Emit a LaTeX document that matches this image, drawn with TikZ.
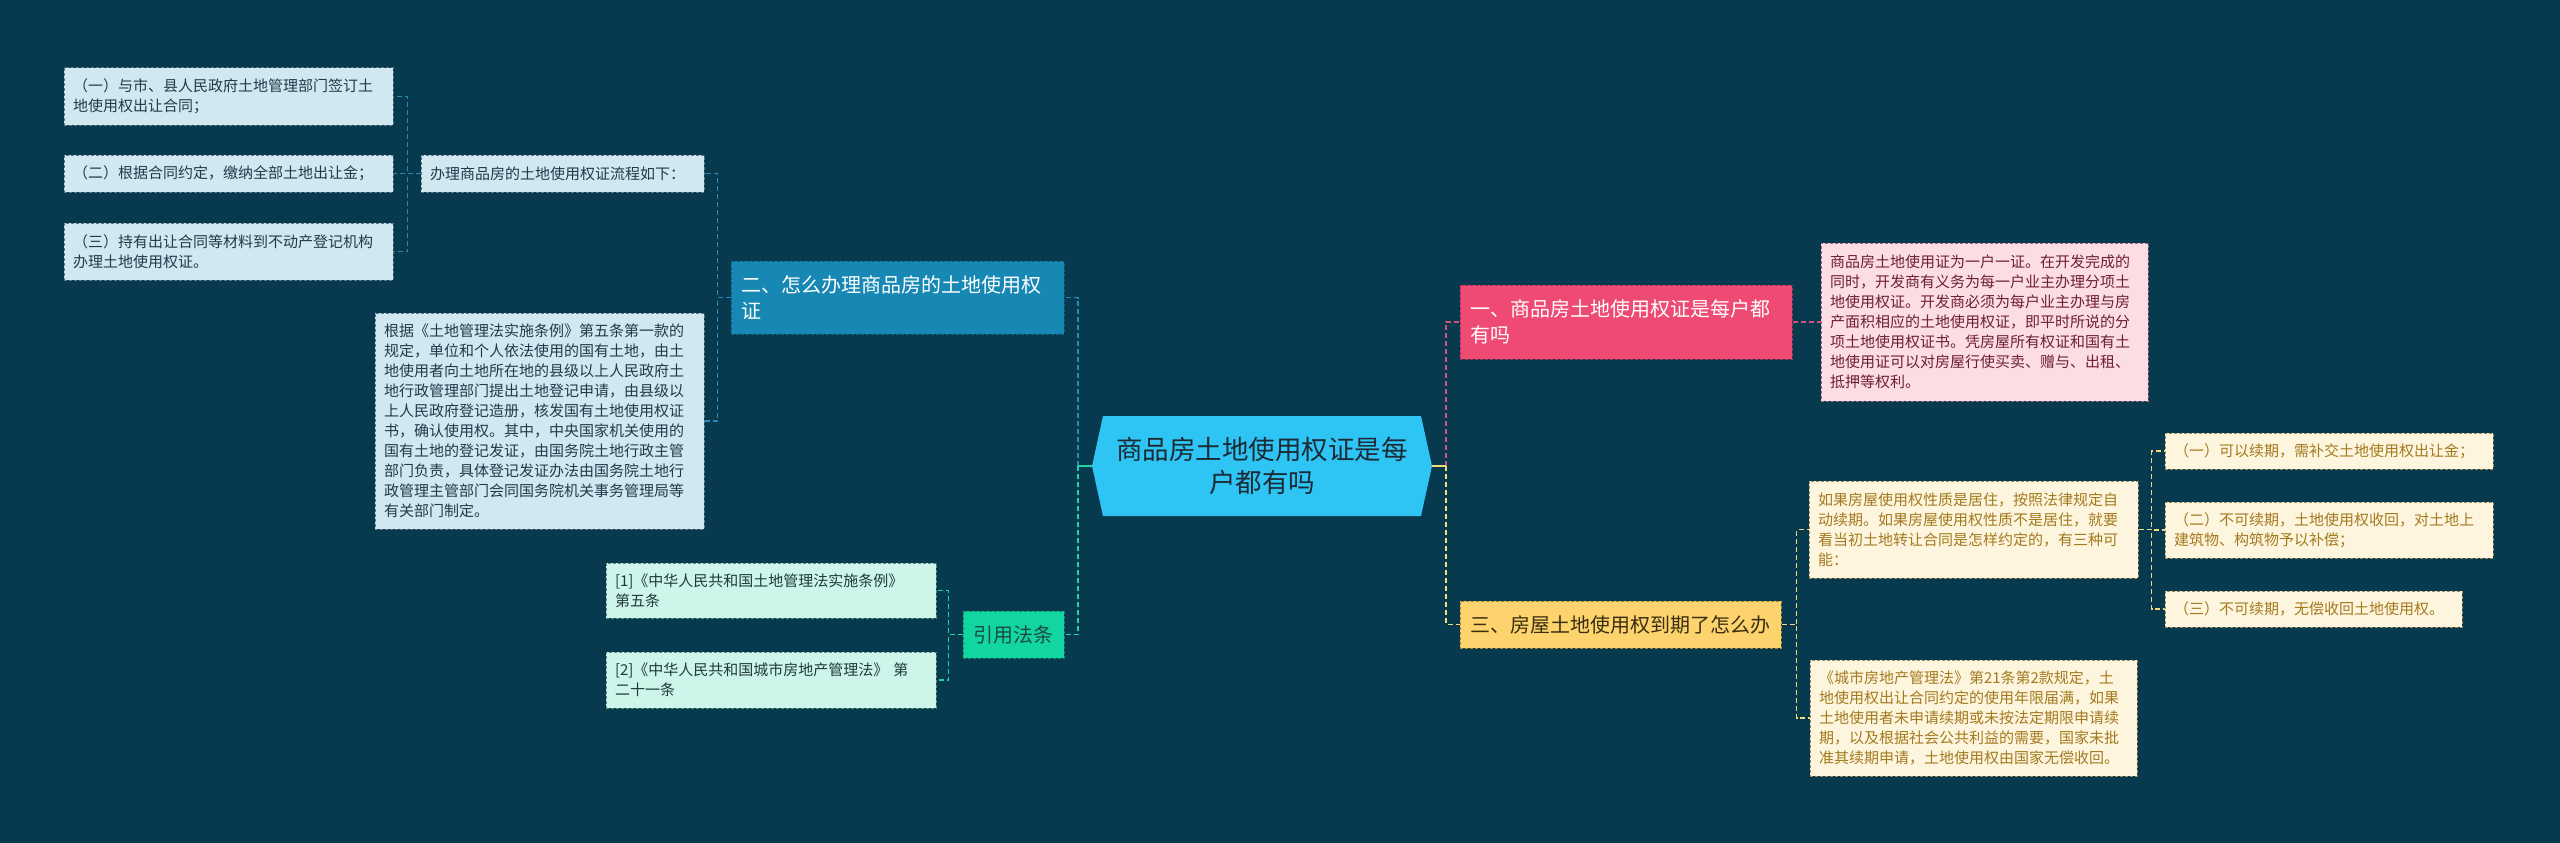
\documentclass[tikz,border=0pt]{standalone}
\usepackage{fontspec}
\newfontfamily\cjk{Noto Sans CJK SC}
\definecolor{bg}{HTML}{083A4F}
\definecolor{lbfill}{HTML}{D2E8F0}
\definecolor{lbdraw}{HTML}{5A7A88}
\definecolor{lbtext}{HTML}{1F3B4A}
\definecolor{twofill}{HTML}{1788B4}
\definecolor{twodraw}{HTML}{0F5F80}
\definecolor{citefill}{HTML}{12D6A2}
\definecolor{citedraw}{HTML}{0A8A68}
\definecolor{citetext}{HTML}{1B4A40}
\definecolor{reffill}{HTML}{CEF5EA}
\definecolor{refdraw}{HTML}{5F8C80}
\definecolor{reftext}{HTML}{1F3B3A}
\definecolor{onefill}{HTML}{EE4A73}
\definecolor{onedraw}{HTML}{A83255}
\definecolor{pkfill}{HTML}{FCDDE4}
\definecolor{pkdraw}{HTML}{9A6A78}
\definecolor{pktext}{HTML}{6E1F33}
\definecolor{threefill}{HTML}{FDD36E}
\definecolor{threedraw}{HTML}{A88830}
\definecolor{threetext}{HTML}{3A2E10}
\definecolor{ylfill}{HTML}{FEF5DE}
\definecolor{yldraw}{HTML}{9C8A5A}
\definecolor{yltext}{HTML}{A37A1E}
\definecolor{rootfill}{HTML}{2EC4F3}
\definecolor{roottext}{HTML}{1B2A35}
\definecolor{cblue}{HTML}{2A8AB5}
\definecolor{cgreen}{HTML}{1DD4A0}
\definecolor{cpink}{HTML}{D5507D}
\definecolor{cyellow}{HTML}{F2DA7A}
\tikzset{
  box/.style={rectangle, inner xsep=9pt, inner ysep=0pt, align=left, anchor=center,
    dash pattern=on 3pt off 2pt, line width=1pt},
  wh/.style n args={3}{minimum width=#1pt, minimum height=#2pt, text width=#3pt},
  smalltxt/.style={font=\cjk\fontsize{15}{20}\selectfont},
  titletxt/.style={font=\cjk\fontsize{20}{26.5}\selectfont, inner xsep=10pt},
  leafB/.style={box, smalltxt, fill=lbfill, draw=lbdraw, text=lbtext},
  refbox/.style={box, smalltxt, fill=reffill, draw=refdraw, text=reftext},
  pinkbox/.style={box, smalltxt, fill=pkfill, draw=pkdraw, text=pktext},
  yellowbox/.style={box, smalltxt, fill=ylfill, draw=yldraw, text=yltext},
  twobox/.style={box, titletxt, fill=twofill, draw=twodraw, text=white},
  citebox/.style={box, titletxt, fill=citefill, draw=citedraw, text=citetext},
  onebox/.style={box, titletxt, fill=onefill, draw=onedraw, text=white},
  threebox/.style={box, titletxt, fill=threefill, draw=threedraw, text=threetext},
  rootbox/.style={rectangle, inner sep=0pt, align=center, text=roottext,
    font=\cjk\fontsize{26.5}{33}\selectfont},
  conn/.style={line width=1.6pt, dash pattern=on 5pt off 3pt},
  stub/.style={line width=2.2pt},
}
\begin{document}
\begin{tikzpicture}[x=1pt,y=-1pt]
\fill[bg] (0,0) rectangle (2560,843);
\useasboundingbox (0,0) rectangle (2560,843);

% central node
\fill[rootfill] (1092,466) -- (1103,416) -- (1421,416) -- (1432,466) -- (1421,516) -- (1103,516) -- cycle;
\node[rootbox, wh={340}{100}{300}] (root) at (1262,466) {商品房土地使用权证是每\\户都有吗};

% left branch: 二
\node[twobox, wh={333}{73}{313}] (two) at (897.5,297.5) {二、怎么办理商品房的土地使用权\\证};
\node[leafB, wh={283}{37}{265}] (proc) at (562.5,173.5) {办理商品房的土地使用权证流程如下：};
\node[leafB, wh={329}{216}{311}] (big) at (539.5,421) {根据《土地管理法实施条例》第五条第一款的\\规定，单位和个人依法使用的国有土地，由土\\地使用者向土地所在地的县级以上人民政府土\\地行政管理部门提出土地登记申请，由县级以\\上人民政府登记造册，核发国有土地使用权证\\书，确认使用权。其中，中央国家机关使用的\\国有土地的登记发证，由国务院土地行政主管\\部门负责，具体登记发证办法由国务院土地行\\政管理主管部门会同国务院机关事务管理局等\\有关部门制定。};
\node[leafB, wh={329}{57}{311}] (l1) at (228.5,96.5) {（一）与市、县人民政府土地管理部门签订土\\地使用权出让合同；};
\node[leafB, wh={329}{37}{311}] (l2) at (228.5,173.5) {（二）根据合同约定，缴纳全部土地出让金；};
\node[leafB, wh={329}{57}{311}] (l3) at (228.5,251.5) {（三）持有出让合同等材料到不动产登记机构\\办理土地使用权证。};

% left branch: 引用法条
\node[citebox, wh={101}{47}{81}, align=center] (cite) at (1013.5,634.5) {引用法条};
\node[refbox, wh={330}{55}{312}] (ref1) at (771,590.5) {[1]《中华人民共和国土地管理法实施条例》\\第五条};
\node[refbox, wh={330}{56}{312}] (ref2) at (771,680) {[2]《中华人民共和国城市房地产管理法》~第\\二十一条};

% right branch: 一
\node[onebox, wh={332}{74}{312}] (one) at (1626,322) {一、商品房土地使用权证是每户都\\有吗};
\node[pinkbox, wh={327}{158}{309}] (pk) at (1984.5,322) {商品房土地使用证为一户一证。在开发完成的\\同时，开发商有义务为每一户业主办理分项土\\地使用权证。开发商必须为每户业主办理与房\\产面积相应的土地使用权证，即平时所说的分\\项土地使用权证书。凭房屋所有权证和国有土\\地使用证可以对房屋行使买卖、赠与、出租、\\抵押等权利。};

% right branch: 三
\node[threebox, wh={321}{47}{301}] (three) at (1620.5,624.5) {三、房屋土地使用权到期了怎么办};
\node[yellowbox, wh={329}{97}{311}] (ifb) at (1973.5,529.5) {如果房屋使用权性质是居住，按照法律规定自\\动续期。如果房屋使用权性质不是居住，就要\\看当初土地转让合同是怎样约定的，有三种可\\能：};
\node[yellowbox, wh={328}{36}{310}] (y1) at (2329,451) {（一）可以续期，需补交土地使用权出让金；};
\node[yellowbox, wh={328}{56}{310}] (y2) at (2329,530) {（二）不可续期，土地使用权收回，对土地上\\建筑物、构筑物予以补偿；};
\node[yellowbox, wh={297}{36}{279}] (y3) at (2313.5,609) {（三）不可续期，无偿收回土地使用权。};
\node[yellowbox, wh={327}{116}{309}] (city) at (1973.5,718) {《城市房地产管理法》第21条第2款规定，土\\地使用权出让合同约定的使用年限届满，如果\\土地使用者未申请续期或未按法定期限申请续\\期，以及根据社会公共利益的需要，国家未批\\准其续期申请，土地使用权由国家无偿收回。};

% connectors from root
\coordinate (trunkL) at (1078,466);
\coordinate (trunkR) at (1446,466);
\draw[conn, cblue] (trunkL) |- (two.east);
\draw[conn, cgreen] (trunkL) |- (cite.east);
\draw[stub, cgreen] (root.west) -- (trunkL);
\draw[conn, cpink] (trunkR) |- (one.west);
\draw[conn, cyellow] (trunkR) |- (three.west);
\draw[stub, cyellow] (root.east) -- (trunkR);

% 二 children
\draw[conn, cblue] (two.west) -- ++(-13,0) |- (proc.east);
\draw[conn, cblue] (two.west) -- ++(-13,0) |- (big.east);
\draw[conn, cblue] (proc.west) -- ++(-13,0) |- (l1.east);
\draw[conn, cblue] (proc.west) -- ++(-13,0) |- (l2.east);
\draw[conn, cblue] (proc.west) -- ++(-13,0) |- (l3.east);

% 引用法条 children
\draw[conn, cgreen] (cite.west) -- ++(-14,0) |- (ref1.east);
\draw[conn, cgreen] (cite.west) -- ++(-14,0) |- (ref2.east);

% 一 child
\draw[conn, cpink] (one.east) -- (pk.west);

% 三 children
\draw[conn, cyellow] (three.east) -- ++(15,0) |- (ifb.west);
\draw[conn, cyellow] (three.east) -- ++(15,0) |- (city.west);
\draw[conn, cyellow] (ifb.east) -- ++(13,0) |- (y1.west);
\draw[conn, cyellow] (ifb.east) -- ++(13,0) |- (y2.west);
\draw[conn, cyellow] (ifb.east) -- ++(13,0) |- (y3.west);
\end{tikzpicture}
\end{document}
